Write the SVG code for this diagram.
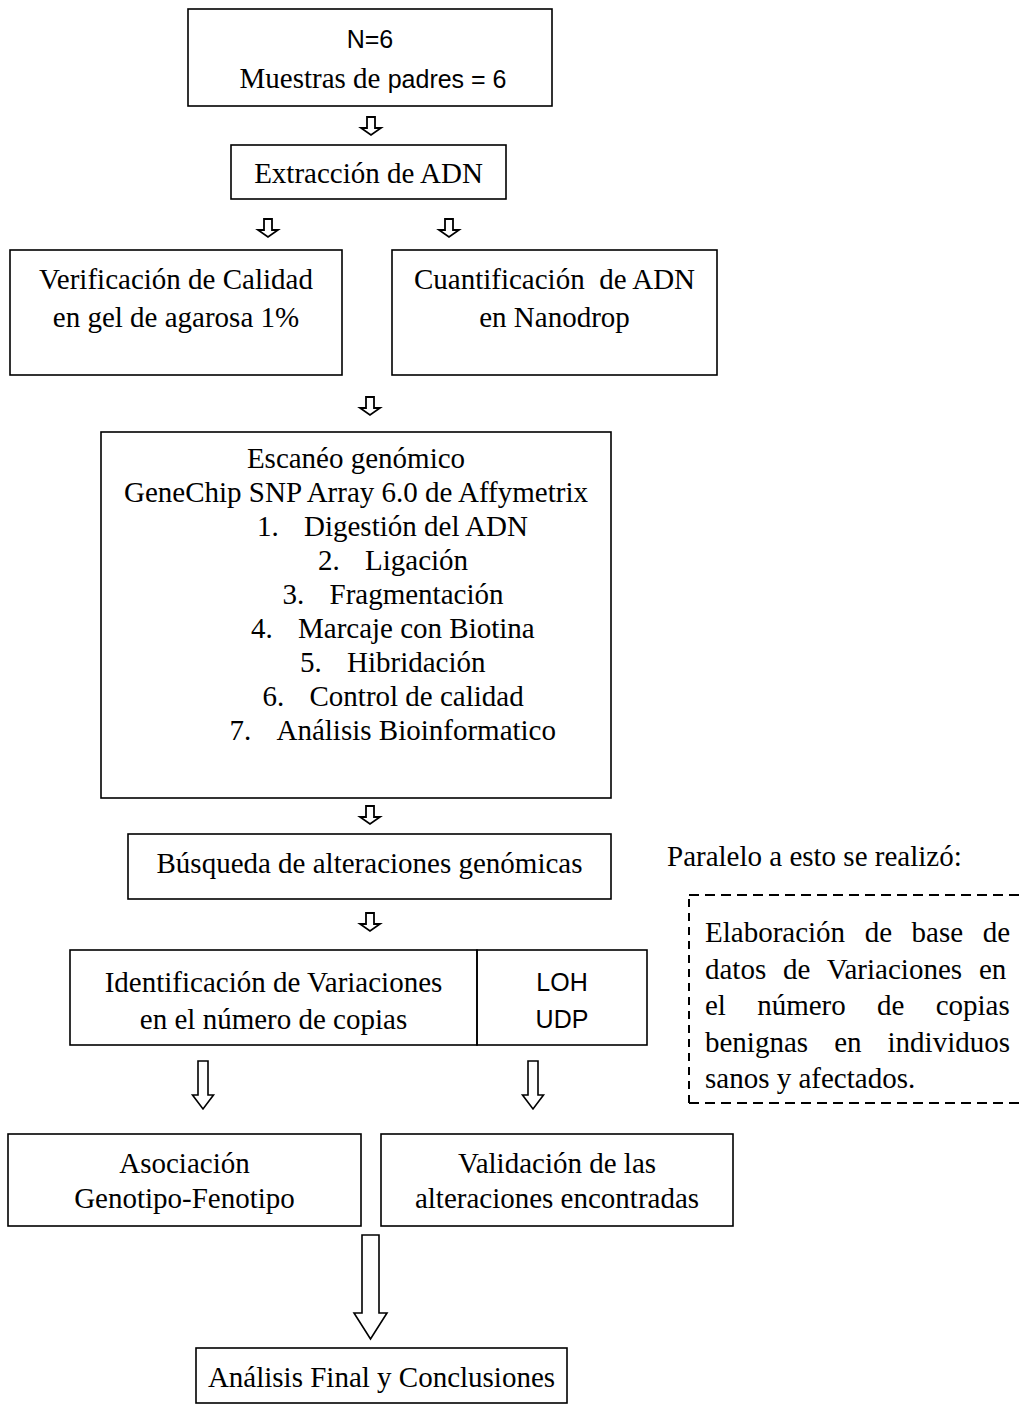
<svg xmlns="http://www.w3.org/2000/svg" xmlns:xlink="http://www.w3.org/1999/xlink" width="1022" height="1405" viewBox="0 0 1022 1405">
<style>
.box{fill:none;stroke:#000;stroke-width:1.6}
.t{font-family:"Liberation Serif","Times New Roman",serif;font-size:29px;fill:#000}
.s{font-family:"Liberation Sans",Arial,sans-serif;font-size:25px;fill:#000}
.m{text-anchor:middle}
.arr{fill:#fff;stroke:#000;stroke-width:1.6;stroke-linejoin:miter}
.sarr{fill:#fff;stroke:#000;stroke-width:1.8;stroke-linejoin:miter}
.dash{fill:none;stroke:#000;stroke-width:2;stroke-dasharray:10 6}
</style>
<defs>
<path id="sa" class="sarr" d="M-4,0 H4 V11 H10 L0,18 L-10,11 H-4 Z"/>
</defs>
<rect width="1022" height="1405" fill="#fff"/>
<g id="n-muestras">
<rect class="box" x="188" y="9" width="364" height="97"/>
<text class="s m" x="370" y="48">N=6</text>
<text class="m" x="373" y="88"><tspan class="t">Muestras de </tspan><tspan class="s">padres = 6</tspan></text>
</g>
<g id="n-extraccion">
<rect class="box" x="231" y="145" width="275" height="54"/>
<text class="t m" x="368.5" y="183">Extracción de ADN</text>
</g>
<g id="n-verificacion">
<rect class="box" x="10" y="250" width="332" height="125"/>
<text class="t m" x="176" y="289">Verificación de Calidad</text>
<text class="t m" x="176" y="327">en gel de agarosa 1%</text>
</g>
<g id="n-cuantificacion">
<rect class="box" x="392" y="250" width="325" height="125"/>
<text class="t m" x="554.5" y="289">Cuantificación&#160; de ADN</text>
<text class="t m" x="554.5" y="327">en Nanodrop</text>
</g>
<g id="n-escaneo">
<rect class="box" x="101" y="432" width="510" height="366"/>
<text class="t m" x="356" y="468">Escanéo genómico</text>
<text class="t m" x="356" y="502">GeneChip SNP Array 6.0 de Affymetrix</text>
<text class="t"><tspan x="257" y="536">1.</tspan><tspan x="304" y="536">Digestión del ADN</tspan></text>
<text class="t"><tspan x="318" y="570">2.</tspan><tspan x="365" y="570">Ligación</tspan></text>
<text class="t"><tspan x="282.5" y="604">3.</tspan><tspan x="329.5" y="604">Fragmentación</tspan></text>
<text class="t"><tspan x="251" y="638">4.</tspan><tspan x="298" y="638">Marcaje con Biotina</tspan></text>
<text class="t"><tspan x="300" y="672">5.</tspan><tspan x="347" y="672">Hibridación</tspan></text>
<text class="t"><tspan x="262.5" y="706">6.</tspan><tspan x="309.5" y="706">Control de calidad</tspan></text>
<text class="t"><tspan x="229.5" y="740">7.</tspan><tspan x="276.5" y="740">Análisis Bioinformatico</tspan></text>
</g>
<g id="n-busqueda">
<rect class="box" x="128" y="834" width="483" height="65"/>
<text class="t m" x="369.5" y="873">Búsqueda de alteraciones genómicas</text>
</g>
<g id="n-identificacion">
<rect class="box" x="70" y="950" width="407" height="95"/>
<text class="t m" x="273.5" y="992">Identificación de Variaciones</text>
<text class="t m" x="273.5" y="1029">en el número de copias</text>
</g>
<g id="n-loh">
<rect class="box" x="477" y="950" width="170" height="95"/>
<text class="s m" x="562" y="991">LOH</text>
<text class="s m" x="562" y="1028">UDP</text>
</g>
<g id="n-paralelo">
<text class="t" x="667" y="866">Paralelo a esto se realizó:</text>
</g>
<g id="n-basedatos">
<path class="dash" d="M689,895 H1022 M689,1103 H1022"/>
<path fill="none" stroke="#000" stroke-width="2" stroke-dasharray="8 6" d="M689,899 V1103"/>
<text class="t" x="705" y="942" style="word-spacing:12.3px">Elaboración de base de</text>
<text class="t" x="705" y="978.5" style="word-spacing:9.6px">datos de Variaciones en</text>
<text class="t" x="705" y="1015" style="word-spacing:24px">el número de copias</text>
<text class="t" x="705" y="1051.5" style="word-spacing:18.8px">benignas en individuos</text>
<text class="t" x="705" y="1088">sanos y afectados.</text>
</g>
<g id="n-asociacion">
<rect class="box" x="8" y="1134" width="353" height="92"/>
<text class="t m" x="184.5" y="1173">Asociación</text>
<text class="t m" x="184.5" y="1208">Genotipo-Fenotipo</text>
</g>
<g id="n-validacion">
<rect class="box" x="381" y="1134" width="352" height="92"/>
<text class="t m" x="557" y="1173">Validación de las</text>
<text class="t m" x="557" y="1208">alteraciones encontradas</text>
</g>
<g id="n-final">
<rect class="box" x="196" y="1348" width="371" height="55"/>
<text class="t m" x="381.5" y="1387">Análisis Final y Conclusiones</text>
</g>
<g id="connectors">
<use xlink:href="#sa" x="371" y="117"/>
<use xlink:href="#sa" x="268" y="219"/>
<use xlink:href="#sa" x="449" y="219"/>
<use xlink:href="#sa" x="370" y="397"/>
<use xlink:href="#sa" x="370" y="806"/>
<use xlink:href="#sa" x="370" y="913"/>
<path class="arr" d="M198,1061 H208 V1095 H213.5 L203,1109 L192.5,1095 H198 Z"/>
<path class="arr" d="M528,1061 H538 V1095 H543.5 L533,1109 L522.5,1095 H528 Z"/>
<path class="arr" d="M362,1235 H379 V1313 H387 L370.5,1339 L354,1313 H362 Z"/>
</g>
</svg>
